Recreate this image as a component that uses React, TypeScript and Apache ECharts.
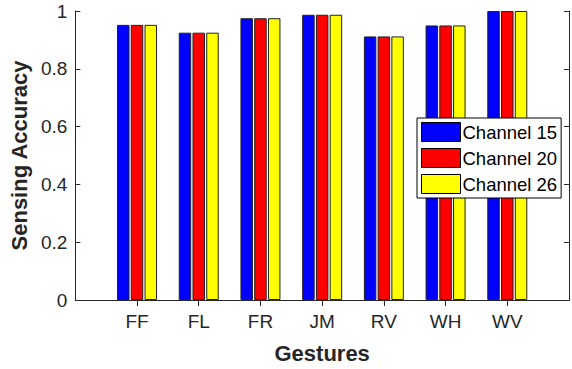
import React, { useEffect, useRef } from "react";
import * as echarts from "echarts";

const gestures = ["", "FF", "FL", "FR", "JM", "RV", "WH", "WV", ""];
const channel15 = [null, 0.952, 0.925, 0.975, 0.987, 0.912, 0.95, 1.0, null];
const channel20 = [null, 0.952, 0.925, 0.975, 0.987, 0.912, 0.95, 1.0, null];
const channel26 = [null, 0.952, 0.925, 0.975, 0.987, 0.912, 0.95, 1.0, null];
const seriesNames = ["Channel 15", "Channel 20", "Channel 26"];
const seriesColors = ["#0000ff", "#ff0000", "#ffff00"];

const FONT = "'Liberation Sans', Arial, Helvetica, sans-serif";
const TXT = "#262626";

export default function App() {
  const ref = useRef<HTMLDivElement>(null);
  useEffect(() => {
    if (!ref.current) return;
    const chart = echarts.init(ref.current, undefined, { renderer: "svg" });
    const tickShow = (i: number) => i > 0 && i < gestures.length - 1;
    const lineStyle = { color: TXT, width: 1 };
    const datas = [channel15, channel20, channel26];
    chart.setOption({
      animation: false,
      backgroundColor: "#fff",
      textStyle: { fontFamily: FONT },
      grid: { left: 73, top: 11, width: 500, height: 293, containLabel: false },
      legend: {
        orient: "vertical",
        left: 417,
        top: 118,
        padding: [4, 4, 4, 4],
        itemWidth: 39,
        itemHeight: 19,
        itemGap: 6,
        borderColor: "#000",
        borderWidth: 1,
        borderRadius: 0,
        backgroundColor: "#fff",
        icon: "rect",
        itemStyle: { borderColor: "#000", borderWidth: 1 },
        textStyle: { fontSize: 18.5, color: "#000", fontFamily: FONT, padding: [0, 0, 0, -3] },
        data: seriesNames,
      },
      xAxis: [
        {
          type: "category",
          data: gestures,
          boundaryGap: false,
          position: "bottom",
          name: "Gestures",
          nameLocation: "middle",
          nameGap: 42,
          nameTextStyle: { fontSize: 22, fontWeight: "bold", color: TXT, fontFamily: FONT },
          axisLine: { show: true, lineStyle },
          axisTick: { show: true, inside: true, length: 5, interval: (i: number) => tickShow(i), lineStyle },
          axisLabel: { show: true, fontSize: 19, color: TXT, margin: 12, interval: 0, fontFamily: FONT },
          splitLine: { show: false },
        },
        {
          type: "category",
          data: gestures,
          boundaryGap: false,
          position: "top",
          axisLine: { show: true, lineStyle },
          axisTick: { show: true, inside: true, length: 6, interval: (i: number) => tickShow(i), lineStyle },
          axisLabel: { show: false },
          splitLine: { show: false },
        },
      ],
      yAxis: [
        {
          type: "value",
          min: 0,
          max: 1,
          interval: 0.2,
          position: "left",
          name: "Sensing Accuracy",
          nameLocation: "middle",
          nameRotate: 90,
          nameGap: 42,
          nameTextStyle: { fontSize: 22, fontWeight: "bold", color: TXT, fontFamily: FONT },
          axisLine: { show: true, lineStyle },
          axisTick: { show: true, inside: true, length: 5, lineStyle },
          axisLabel: { fontSize: 19, color: TXT, margin: 8, fontFamily: FONT },
          splitLine: { show: false },
        },
        {
          type: "value",
          min: 0,
          max: 1,
          interval: 0.2,
          position: "right",
          axisLine: { show: true, lineStyle },
          axisTick: { show: true, inside: true, length: 5, lineStyle },
          axisLabel: { show: false },
          splitLine: { show: false },
        },
      ],
      series: seriesNames.map((name, k) => ({
        name,
        type: "bar",
        xAxisIndex: 0,
        yAxisIndex: 0,
        data: datas[k],
        barWidth: 12.5,
        barGap: "10%",
        itemStyle: { color: seriesColors[k], borderColor: "#222", borderWidth: 1 },
        z: 1,
      })),
    });
    return () => chart.dispose();
  }, []);
  return (
    <div
      ref={ref}
      style={{ position: "fixed", left: 0, top: 0, width: 572, height: 369, background: "#fff" }}
    />
  );
}
